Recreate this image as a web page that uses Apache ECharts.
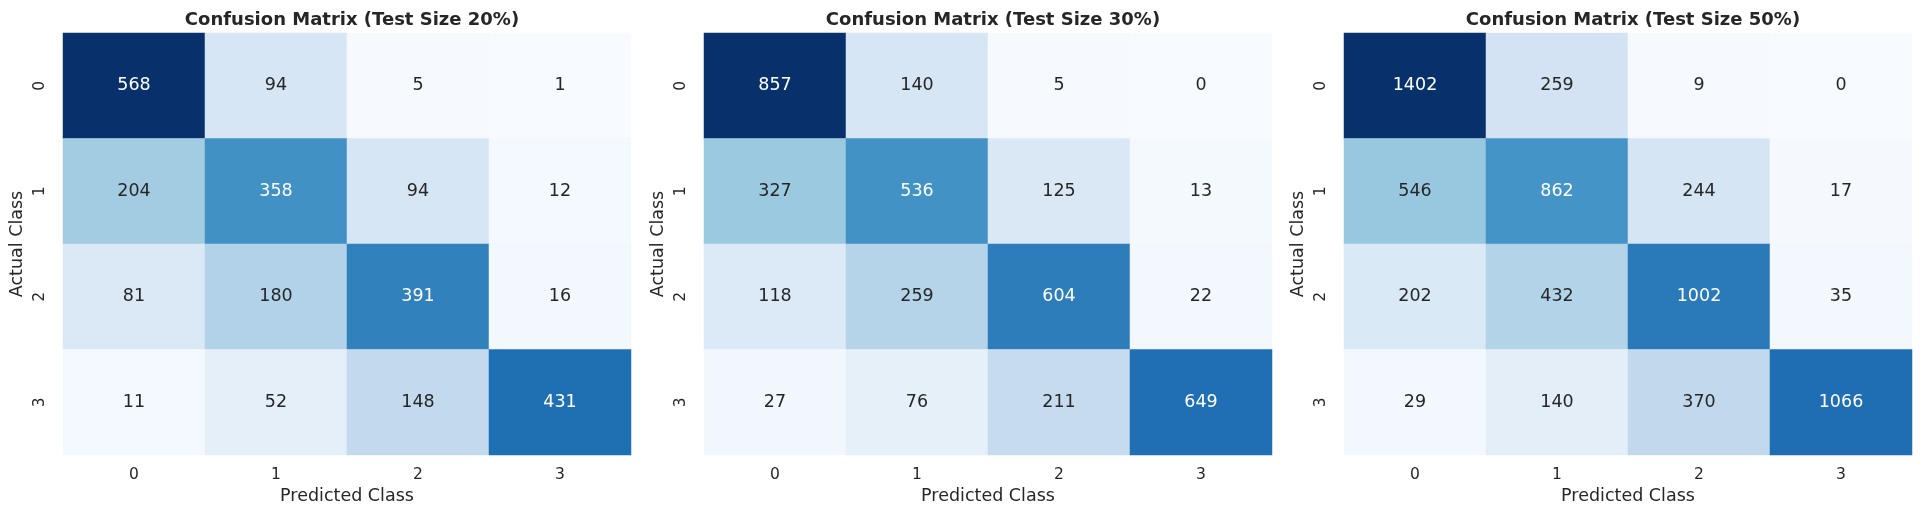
<!DOCTYPE html>
<html>
<head>
<meta charset="utf-8">
<script src="https://cdn.jsdelivr.net/npm/echarts@6/dist/echarts.min.js"></script>
<style>
html,body{margin:0;padding:0;background:#fff;}
#chart{width:1920px;height:517px;}
</style>
</head>
<body>
<div id="chart"></div>
<script>
// ---- data ----
var classLabels = ['0', '1', '2', '3'];
var titles = [
  'Confusion Matrix (Test Size 20%)',
  'Confusion Matrix (Test Size 30%)',
  'Confusion Matrix (Test Size 50%)'
];
// rows = actual class, columns = predicted class
var matrix20 = [
  [568, 94, 5, 1],
  [204, 358, 94, 12],
  [81, 180, 391, 16],
  [11, 52, 148, 431]
];
var matrix30 = [
  [857, 140, 5, 0],
  [327, 536, 125, 13],
  [118, 259, 604, 22],
  [27, 76, 211, 649]
];
var matrix50 = [
  [1402, 259, 9, 0],
  [546, 862, 244, 17],
  [202, 432, 1002, 35],
  [29, 140, 370, 1066]
];
var matrices = [matrix20, matrix30, matrix50];

// ---- styling ----
var blues = ['#f7fbff','#deebf7','#c6dbef','#9ecae1','#6baed6','#4292c6','#2171b5','#08519c','#08306b'];
var FONT = 'DejaVu Sans';
var TXT = '#262626';
var gridLefts = [63, 704, 1344];
var gridW = 568, gridTop = 33, gridH = 422;

function hexToRgb(h){return [parseInt(h.substr(1,2),16),parseInt(h.substr(3,2),16),parseInt(h.substr(5,2),16)];}
function cmap(t){
  t = Math.max(0, Math.min(1, t));
  var p = t * (blues.length - 1), i = Math.floor(p), f = p - i;
  if (i >= blues.length - 1) return hexToRgb(blues[blues.length-1]);
  var a = hexToRgb(blues[i]), b = hexToRgb(blues[i+1]);
  return [a[0]+(b[0]-a[0])*f, a[1]+(b[1]-a[1])*f, a[2]+(b[2]-a[2])*f];
}
function lum(rgb){
  var c = rgb.map(function(v){v/=255; return v<=0.03928? v/12.92 : Math.pow((v+0.055)/1.055,2.4);});
  return 0.2126*c[0]+0.7152*c[1]+0.0722*c[2];
}

var grids = [], xAxes = [], yAxes = [], series = [], visualMaps = [], titleOpts = [];
matrices.forEach(function(m, k){
  var flat = [].concat.apply([], m);
  var mn = Math.min.apply(null, flat), mx = Math.max.apply(null, flat);
  grids.push({left: gridLefts[k], top: gridTop, width: gridW, height: gridH});
  titleOpts.push({
    text: titles[k], left: gridLefts[k] + gridW/2, top: 6, textAlign: 'center',
    textStyle: {fontFamily: FONT, fontSize: 18, fontWeight: 'bold', color: TXT}
  });
  xAxes.push({
    type: 'category', gridIndex: k, data: classLabels, position: 'bottom',
    name: 'Predicted Class', nameLocation: 'middle', nameGap: 32,
    nameTextStyle: {fontFamily: FONT, fontSize: 17.5, color: TXT},
    axisLine: {show: false}, axisTick: {show: false}, splitLine: {show: false},
    axisLabel: {fontFamily: FONT, fontSize: 15.5, color: TXT, margin: 12}
  });
  yAxes.push({
    type: 'category', gridIndex: k, data: classLabels, inverse: true,
    name: 'Actual Class', nameLocation: 'middle', nameGap: 37,
    nameTextStyle: {fontFamily: FONT, fontSize: 17.5, color: TXT},
    axisLine: {show: false}, axisTick: {show: false}, splitLine: {show: false},
    axisLabel: {fontFamily: FONT, fontSize: 15.5, color: TXT, rotate: 90, margin: 15}
  });
  var data = [];
  m.forEach(function(row, r){
    row.forEach(function(v, c){
      var t = (v - mn) / (mx - mn);
      var col = lum(cmap(t)) > 0.408 ? TXT : '#ffffff';
      data.push({value: [c, r, v], label: {color: col}});
    });
  });
  series.push({
    type: 'heatmap', xAxisIndex: k, yAxisIndex: k, data: data,
    label: {show: true, fontFamily: FONT, fontSize: 17.5},
    itemStyle: {borderWidth: 0},
    emphasis: {disabled: true}
  });
  visualMaps.push({
    show: false, seriesIndex: k, min: mn, max: mx, dimension: 2,
    inRange: {color: blues}
  });
});

var chart = echarts.init(document.getElementById('chart'));
chart.setOption({
  backgroundColor: '#ffffff',
  animation: false,
  title: titleOpts,
  grid: grids,
  xAxis: xAxes,
  yAxis: yAxes,
  visualMap: visualMaps,
  series: series
});
</script>
</body>
</html>
